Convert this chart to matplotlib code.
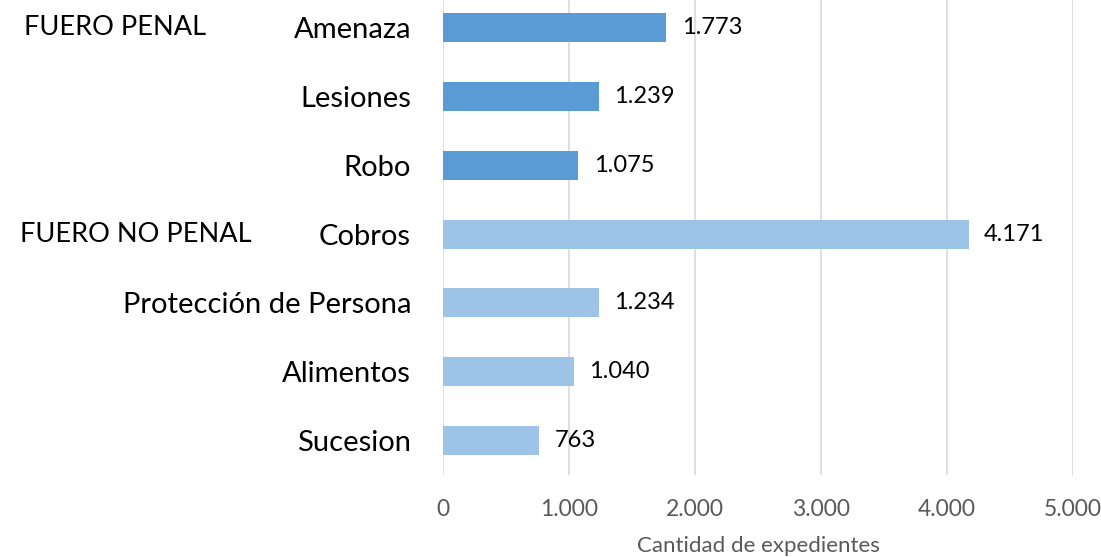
import matplotlib
matplotlib.use("Agg")
import matplotlib.pyplot as plt

categories = ["Amenaza", "Lesiones", "Robo", "Cobros", "Protección de Persona", "Alimentos", "Sucesion"]
values = [1773, 1239, 1075, 4171, 1234, 1040, 763]
groups = ["penal", "penal", "penal", "nopenal", "nopenal", "nopenal", "nopenal"]
group_labels = {"penal": "FUERO PENAL", "nopenal": "FUERO NO PENAL"}
group_colors = {"penal": "#5B9BD5", "nopenal": "#9DC3E6"}
xticks = [0, 1000, 2000, 3000, 4000, 5000]
xlabel = "Cantidad de expedientes"

plt.rcParams['font.family'] = ['Lato', 'DejaVu Sans']

fig = plt.figure(figsize=(11.01, 5.57), dpi=100)
ax = fig.add_axes([0.4024, 0.147, 0.9746 - 0.4024, 1.0126 - 0.147])

ypos = list(range(len(categories)))
colors = [group_colors[g] for g in groups]
bars = ax.barh(ypos, values, height=0.42, color=colors, zorder=3)
ax.set_ylim(len(categories) - 0.5, -0.5)
ax.set_xlim(0, 5000)
ax.set_yticks(ypos)
ax.set_yticklabels(categories, fontsize=21, color="black")
ax.set_xticks(xticks)
ax.set_xticklabels([f"{v:,}".replace(",", ".") for v in xticks], fontsize=16.5, color="#595959")
ax.tick_params(axis="both", length=0)
ax.tick_params(axis="x", pad=17)
ax.tick_params(axis="y", pad=23)
for s in ax.spines.values():
    s.set_visible(False)
ax.grid(axis="x", color="#D9D9D9", linewidth=1.2, zorder=0)
ax.set_xlabel(xlabel, fontsize=16, color="#595959", labelpad=12)

for b, v in zip(bars, values):
    ax.text(v + 120, b.get_y() + b.get_height() / 2, f"{v:,}".replace(",", "."),
            va="center", ha="left", fontsize=17, color="black")

group_x = {"penal": 24, "nopenal": 20}
seen = set()
for i, g in enumerate(groups):
    if g not in seen:
        seen.add(g)
        yfig = ax.transData.transform((0, i))[1]
        fig.text(group_x[g] / 1101, yfig / fig.dpi / fig.get_figheight(), group_labels[g],
                 ha="left", va="center", fontsize=19.5, color="black")

fig.savefig("out.png", dpi=100)
